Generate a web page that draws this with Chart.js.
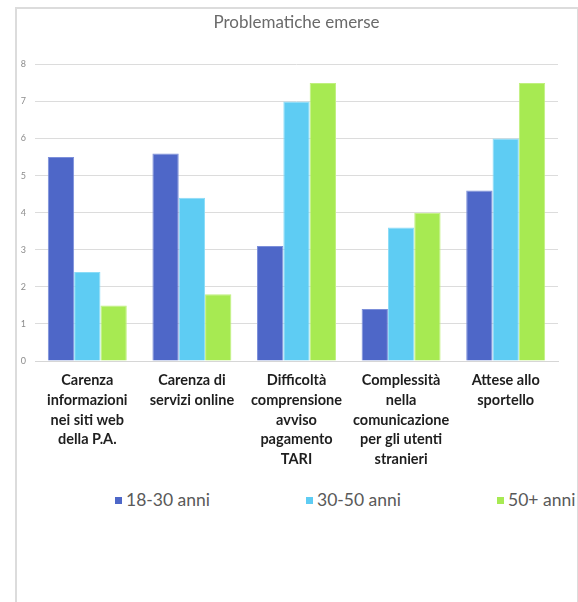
<!DOCTYPE html>
<html>
<head>
<meta charset="utf-8">
<script src="https://cdn.jsdelivr.net/npm/chart.js@4"></script>
<style>
  html, body { margin: 0; padding: 0; background: #fff; }
  body { width: 578px; height: 602px; position: relative; overflow: hidden; }
  #frame { position: absolute; left: 15px; top: 7px; width: 560px; height: 620px;
           border: 2px solid #DCDCDC; overflow: hidden; background: #fff; }
  #c { position: absolute; left: 0; top: 0; }
  .lg { position: absolute; font-family: Lato, "Open Sans", sans-serif; font-size: 17.5px;
        color: #595959; white-space: nowrap; line-height: 20px; }
  .lg i { position: absolute; width: 7px; height: 7px; left: 0; top: 7px; }
  .lg span { position: absolute; left: 11px; top: 0; }
</style>
</head>
<body>
<div id="frame">
  <canvas id="c" width="559" height="462"></canvas>
</div>
<script>
const categories = [
  ["Carenza", "informazioni", "nei siti web", "della P.A."],
  ["Carenza di", "servizi online"],
  ["Difficoltà", "comprensione", "avviso", "pagamento", "TARI"],
  ["Complessità", "nella", "comunicazione", "per gli utenti", "stranieri"],
  ["Attese allo", "sportello"]
];
const seriesNames = ["18-30 anni", "30-50 anni", "50+ anni"];
const values1830 = [5.5, 5.6, 3.1, 1.4, 4.6];
const values3050 = [2.4, 4.4, 7.0, 3.6, 6.0];
const values50plus = [1.5, 1.8, 7.5, 4.0, 7.5];
const yTicks = [0, 1, 2, 3, 4, 5, 6, 7, 8];
const titleText = "Problematiche emerse";

const fills = ["#4E67C8", "#5ECCF3", "#A7EA52"];
const edges = ["#7C8FDA", "#8ADCF7", "#C0F07E"];
const seriesValues = [values1830, values3050, values50plus];

const datasets = seriesNames.map((n, i) => ({
  label: n,
  data: seriesValues[i],
  backgroundColor: fills[i],
  borderColor: edges[i],
  borderWidth: 1,
  categoryPercentage: 0.755,
  barPercentage: 1.0,
  yAxisID: 'y'
}));

new Chart(document.getElementById('c'), {
  type: 'bar',
  data: { labels: categories, datasets },
  options: {
    responsive: false,
    devicePixelRatio: 1,
    animation: false,
    layout: { padding: { left: 0, right: 0, top: 0, bottom: 0 } },
    plugins: {
      legend: { display: false },
      tooltip: { enabled: false },
      title: {
        display: true,
        text: titleText,
        color: '#6A6A6A',
        font: { family: 'Lato', size: 17, weight: 'normal' },
        padding: { top: 3, bottom: 32 }
      }
    },
    scales: {
      x: {
        grid: { display: false, drawTicks: false },
        border: { display: true, color: '#D6D6D6', width: 1 },
        ticks: {
          color: '#1E1E1E',
          font: { family: 'Lato', size: 14.5, weight: 'bold', lineHeight: 1.35 },
          padding: 10,
          maxRotation: 0,
          autoSkip: false
        },
        afterFit: s => { s.height = 110; }
      },
      y: {
        min: 0, max: 8,
        position: 'left',
        grid: { color: '#DCDCDC', lineWidth: 1, drawTicks: false },
        border: { display: false },
        afterBuildTicks: s => { s.ticks = yTicks.map(v => ({ value: v })); },
        ticks: {
          color: '#8C8C8C',
          font: { family: 'Lato', size: 9 },
          padding: 9
        },
        afterFit: s => { s.width = 18; }
      },
      yRight: {
        type: 'linear',
        position: 'right',
        min: 0, max: 8,
        grid: { display: false, drawTicks: false },
        border: { display: false },
        ticks: { display: false },
        afterFit: s => { s.width = 18; }
      }
    }
  }
});

// legend built from the series arrays
const frame = document.getElementById('frame');
seriesNames.forEach((n, i) => {
  const d = document.createElement('div');
  d.className = 'lg';
  d.style.left = (115 - 17 + i * 191) + 'px';
  d.style.top = (490 - 9) + 'px';
  d.innerHTML = '<i style="background:' + fills[i] + '"></i><span>' + n + '</span>';
  frame.appendChild(d);
});
</script>
</body>
</html>
